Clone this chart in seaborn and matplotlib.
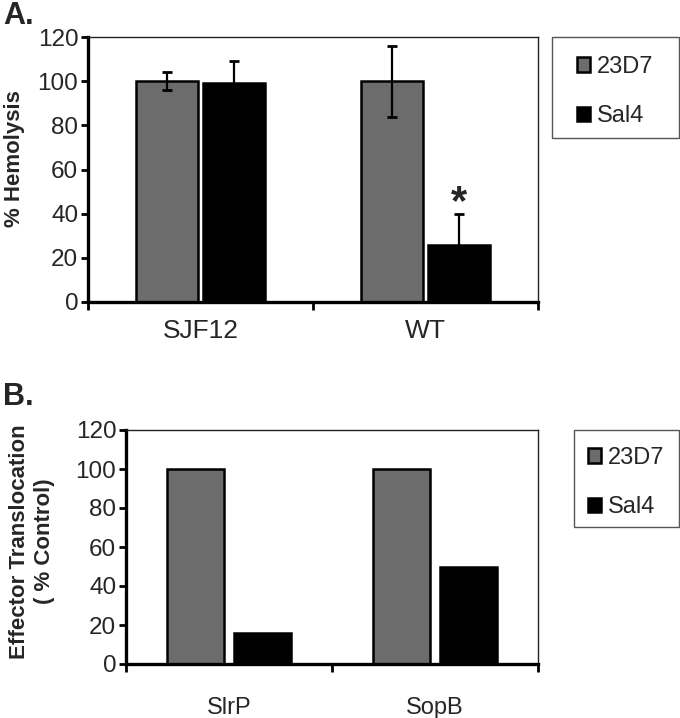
import matplotlib
matplotlib.use("Agg")
import matplotlib.pyplot as plt
from matplotlib.patches import Rectangle
import seaborn as sns
import pandas as pd
import numpy as np

# ---- data ----
strains_a = ["SJF12", "WT"]
antibodies = ["23D7", "Sal4"]
hemo_23D7 = [100, 100]
hemo_Sal4 = [99, 26]
hemo_err_23D7 = [4, 16]
hemo_err_Sal4 = [10, 14]

effectors = ["SlrP", "SopB"]
trans_23D7 = [100, 100]
trans_Sal4 = [16, 50]

yticks = [0, 20, 40, 60, 80, 100, 120]

sns.set_theme(style="white")
plt.rcParams['font.family'] = ['Liberation Sans', 'DejaVu Sans']

palette = {"23D7": "#6c6c6c", "Sal4": "#000000"}

df_a = pd.DataFrame({
    "strain": strains_a * 2,
    "ab": ["23D7"] * 2 + ["Sal4"] * 2,
    "val": hemo_23D7 + hemo_Sal4,
})
df_b = pd.DataFrame({
    "eff": effectors * 2,
    "ab": ["23D7"] * 2 + ["Sal4"] * 2,
    "val": trans_23D7 + trans_Sal4,
})

fig = plt.figure(figsize=(6.8, 7.18), dpi=100)
W, H = 680, 718
def axpos(l, t, r, b):
    return [l / W, 1 - b / H, (r - l) / W, (b - t) / H]

ax1 = fig.add_axes(axpos(88, 37, 538, 302))
ax2 = fig.add_axes(axpos(126, 430, 538, 664))

sns.barplot(data=df_a, x="strain", y="val", hue="ab", palette=palette,
            order=strains_a, hue_order=antibodies, width=0.60, gap=0.08,
            edgecolor="black", linewidth=1.8, errorbar=None, ax=ax1)
sns.barplot(data=df_b, x="eff", y="val", hue="ab", palette=palette,
            order=effectors, hue_order=antibodies, width=0.65, gap=0.15,
            edgecolor="black", linewidth=1.8, errorbar=None, ax=ax2)

# error bars from bar patches
patches = [p for p in ax1.patches if p.get_height() > 0]
patches.sort(key=lambda p: p.get_x())
errs = [hemo_err_23D7[0], hemo_err_Sal4[0], hemo_err_23D7[1], hemo_err_Sal4[1]]
for p, e in zip(patches, errs):
    xc = p.get_x() + p.get_width() / 2
    ax1.errorbar(xc, p.get_height(), yerr=e, fmt="none", ecolor="black",
                 elinewidth=1.6, capsize=3.5, capthick=2.0, zorder=5)
# asterisk above WT Sal4
p = patches[3]
ax1.text(p.get_x() + p.get_width() / 2, p.get_height() + hemo_err_Sal4[1] - 0.3,
         "*", ha="center", va="baseline", fontsize=30, fontweight="bold")

for ax, cats in ((ax1, strains_a), (ax2, effectors)):
    ax.set_ylim(0, 120)
    ax.set_yticks(yticks)
    ax.set_xlim(-0.5, len(cats) - 0.5)
    ax.set_xticks(range(len(cats)))
    ax.set_xticks(np.arange(-0.5, len(cats), 1.0), minor=True)
    ax.tick_params(axis="x", which="major", length=0)
    ax.tick_params(axis="x", which="minor", length=6, width=2, direction="out",
                   color="black", bottom=True)
    ax.tick_params(axis="y", which="major", length=5, width=2, direction="out",
                   color="black", left=True, pad=2)
    ax.set_xlabel("")
    for s in ("left", "bottom"):
        ax.spines[s].set_linewidth(2.4)
        ax.spines[s].set_color("black")
    for s in ("top", "right"):
        ax.spines[s].set_linewidth(1.0)
        ax.spines[s].set_color("#222222")
        ax.spines[s].set_visible(True)

ax1.tick_params(axis="y", labelsize=17.5)
ax1.tick_params(axis="x", which="major", labelsize=19, pad=12)
ax2.tick_params(axis="y", labelsize=17.5)
ax2.tick_params(axis="x", which="major", labelsize=17, pad=24)

ax1.set_ylabel("% Hemolysis", fontsize=16, fontweight="bold")
ax1.yaxis.set_label_coords(-0.14, 0.54)
ax2.set_ylabel("Effector Translocation\n( % Control)", fontsize=16,
               fontweight="bold", linespacing=1.25)
ax2.yaxis.set_label_coords(-0.172, 0.523)

# legends (frame drawn as a separate box)
for ax, (l, t, r, b) in ((ax1, (552, 37, 679, 138)),
                         (ax2, (574, 430, 679, 527))):
    h, lab = ax.get_legend_handles_labels()
    if ax.get_legend():
        ax.get_legend().remove()
    leg = ax.legend(h, lab, loc="center",
                    bbox_to_anchor=((l + r) / 2 / W, 1 - ((t + b) / 2 + 4) / H),
                    bbox_transform=fig.transFigure,
                    fontsize=17, frameon=False, handlelength=0.55,
                    handleheight=0.55, handletextpad=0.3, borderpad=0,
                    labelspacing=1.15, borderaxespad=0)
    fig.patches.append(Rectangle((l / W, 1 - b / H), (r - l) / W, (b - t) / H,
                                 transform=fig.transFigure, fill=False,
                                 edgecolor="#555555", linewidth=1.0))

fig.text(3 / W, 1 - 1 / H, "A.", fontsize=22, fontweight="bold", va="top", ha="left")
fig.text(3 / W, 1 - 382 / H, "B.", fontsize=22, fontweight="bold", va="top", ha="left")

fig.savefig("out.png", dpi=100)
